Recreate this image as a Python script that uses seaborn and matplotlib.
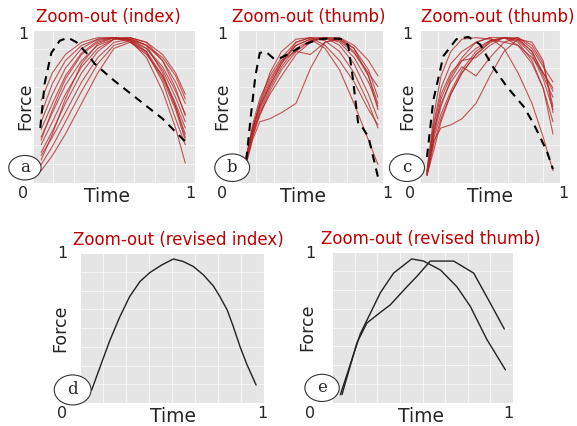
import numpy as np
import pandas as pd
import matplotlib
matplotlib.use("Agg")
import matplotlib.pyplot as plt
from matplotlib.patches import Ellipse
import seaborn as sns

# ---- data (normalised time / force) ----
T_A = [0.05, 0.12, 0.2, 0.3, 0.4, 0.5, 0.6, 0.7, 0.8, 0.88, 0.94]
A_TRIALS = [
    [0.54, 0.72, 0.84, 0.92, 0.95, 0.95, 0.94, 0.90, 0.80, 0.66, 0.52],
    [0.45, 0.65, 0.80, 0.90, 0.94, 0.95, 0.93, 0.88, 0.76, 0.60, 0.45],
    [0.40, 0.58, 0.75, 0.88, 0.94, 0.95, 0.94, 0.90, 0.82, 0.70, 0.55],
    [0.35, 0.52, 0.70, 0.85, 0.93, 0.95, 0.92, 0.84, 0.70, 0.52, 0.36],
    [0.30, 0.46, 0.64, 0.80, 0.90, 0.94, 0.94, 0.88, 0.74, 0.56, 0.40],
    [0.25, 0.40, 0.58, 0.76, 0.88, 0.94, 0.95, 0.92, 0.80, 0.62, 0.44],
    [0.20, 0.34, 0.52, 0.72, 0.86, 0.94, 0.95, 0.90, 0.72, 0.50, 0.30],
    [0.18, 0.30, 0.46, 0.66, 0.82, 0.92, 0.94, 0.86, 0.66, 0.42, 0.25],
    [0.12, 0.24, 0.40, 0.60, 0.78, 0.90, 0.93, 0.82, 0.60, 0.36, 0.13],
    [0.08, 0.18, 0.32, 0.52, 0.72, 0.88, 0.92, 0.86, 0.70, 0.50, 0.32],
    [0.15, 0.32, 0.55, 0.78, 0.91, 0.95, 0.93, 0.85, 0.68, 0.48, 0.28],
    [0.28, 0.48, 0.68, 0.84, 0.92, 0.95, 0.95, 0.92, 0.84, 0.72, 0.58],
]
A_DASH_T = [0.045, 0.072, 0.113, 0.165, 0.216, 0.268, 0.33, 0.38, 0.5, 0.68, 0.8, 0.94]
A_DASH_F = [0.36, 0.65, 0.85, 0.93, 0.95, 0.92, 0.85, 0.78, 0.67, 0.52, 0.42, 0.27]

T_B = [0.05, 0.1, 0.15, 0.22, 0.3, 0.4, 0.5, 0.6, 0.7, 0.8, 0.9, 0.965]
B_TRIALS = [
    [0.12, 0.38, 0.55, 0.70, 0.82, 0.92, 0.95, 0.95, 0.93, 0.85, 0.72, 0.63],
    [0.14, 0.35, 0.52, 0.68, 0.80, 0.90, 0.94, 0.95, 0.92, 0.82, 0.66, 0.50],
    [0.10, 0.30, 0.46, 0.62, 0.76, 0.88, 0.93, 0.95, 0.94, 0.88, 0.74, 0.56],
    [0.15, 0.36, 0.50, 0.64, 0.78, 0.92, 0.95, 0.93, 0.86, 0.72, 0.52, 0.36],
    [0.12, 0.33, 0.45, 0.58, 0.70, 0.84, 0.92, 0.95, 0.90, 0.78, 0.58, 0.42],
    [0.10, 0.28, 0.40, 0.42, 0.46, 0.52, 0.75, 0.92, 0.94, 0.86, 0.70, 0.52],
    [0.13, 0.32, 0.48, 0.64, 0.78, 0.90, 0.94, 0.88, 0.74, 0.52, 0.28, 0.12],
    [0.11, 0.30, 0.44, 0.60, 0.74, 0.86, 0.93, 0.95, 0.95, 0.90, 0.80, 0.70],
    [0.14, 0.34, 0.50, 0.66, 0.80, 0.86, 0.84, 0.92, 0.95, 0.88, 0.70, 0.48],
    [0.12, 0.34, 0.52, 0.72, 0.86, 0.94, 0.95, 0.90, 0.80, 0.66, 0.48, 0.38],
]
B_DASH_T = [0.057, 0.09, 0.12, 0.15, 0.19, 0.25, 0.30, 0.36, 0.47, 0.56, 0.655,
            0.72, 0.76, 0.79, 0.83, 0.86, 0.9, 0.965]
B_DASH_F = [0.15, 0.45, 0.70, 0.85, 0.86, 0.81, 0.82, 0.85, 0.91, 0.94, 0.945,
            0.94, 0.90, 0.70, 0.38, 0.36, 0.30, 0.04]

T_C = [0.05, 0.1, 0.15, 0.22, 0.3, 0.4, 0.5, 0.6, 0.7, 0.8, 0.88, 0.95]
C_TRIALS = [
    [0.08, 0.45, 0.70, 0.86, 0.94, 0.95, 0.94, 0.92, 0.90, 0.82, 0.72, 0.62],
    [0.06, 0.38, 0.58, 0.72, 0.80, 0.88, 0.93, 0.95, 0.94, 0.86, 0.72, 0.60],
    [0.07, 0.35, 0.52, 0.66, 0.76, 0.70, 0.82, 0.92, 0.95, 0.90, 0.78, 0.50],
    [0.05, 0.30, 0.45, 0.60, 0.74, 0.86, 0.93, 0.95, 0.92, 0.80, 0.62, 0.40],
    [0.06, 0.28, 0.36, 0.38, 0.42, 0.52, 0.70, 0.86, 0.94, 0.92, 0.80, 0.46],
    [0.05, 0.26, 0.42, 0.58, 0.72, 0.84, 0.92, 0.95, 0.95, 0.88, 0.76, 0.66],
    [0.07, 0.34, 0.55, 0.70, 0.82, 0.92, 0.95, 0.88, 0.72, 0.52, 0.30, 0.08],
    [0.06, 0.32, 0.50, 0.68, 0.80, 0.82, 0.90, 0.95, 0.94, 0.86, 0.70, 0.56],
    [0.08, 0.40, 0.62, 0.78, 0.86, 0.92, 0.95, 0.95, 0.90, 0.78, 0.62, 0.32],
    [0.05, 0.22, 0.40, 0.58, 0.72, 0.84, 0.92, 0.95, 0.93, 0.84, 0.68, 0.48],
]
C_DASH_T = [0.05, 0.095, 0.167, 0.26, 0.345, 0.43, 0.52, 0.62, 0.74, 0.81, 0.905, 0.95]
C_DASH_F = [0.17, 0.54, 0.83, 0.94, 0.955, 0.905, 0.76, 0.63, 0.50, 0.39, 0.21, 0.09]

D_T = [0.063, 0.109, 0.163, 0.217, 0.27, 0.326, 0.38, 0.444, 0.507, 0.56,
       0.616, 0.67, 0.725, 0.76, 0.80, 0.833, 0.87, 0.906, 0.957]
D_F = [0.085, 0.24, 0.42, 0.576, 0.71, 0.81, 0.87, 0.92, 0.96, 0.944,
       0.91, 0.855, 0.78, 0.71, 0.62, 0.51, 0.375, 0.26, 0.12]

E1_T = [0.046, 0.157, 0.267, 0.34, 0.44, 0.506, 0.6, 0.69, 0.764, 0.856, 0.958]
E1_F = [0.055, 0.46, 0.73, 0.86, 0.954, 0.94, 0.88, 0.77, 0.64, 0.42, 0.22]
E2_T = [0.055, 0.138, 0.193, 0.267, 0.322, 0.414, 0.47, 0.543, 0.617, 0.672,
        0.783, 0.875, 0.952]
E2_F = [0.055, 0.40, 0.53, 0.60, 0.65, 0.77, 0.84, 0.94, 0.94, 0.94, 0.86, 0.66, 0.49]

TITLES = ["Zoom-out (index)", "Zoom-out (thumb)", "Zoom-out (thumb)",
          "Zoom-out (revised index)", "Zoom-out (revised thumb)"]
LETTERS = ["a", "b", "c", "d", "e"]


def long_df(t, trials):
    rows = []
    for i, f in enumerate(trials):
        for x, y in zip(t, f):
            rows.append((i, x, y))
    return pd.DataFrame(rows, columns=["trial", "time", "force"])


sns.set_style("darkgrid", {"axes.facecolor": "#e5e5e5", "grid.color": "white"})
plt.rcParams["font.family"] = ["DejaVu Sans"]

fig = plt.figure(figsize=(5.77, 4.26), dpi=100)

W, H = 577, 426
# left, top, right, bottom in pixels
boxes = [(33, 30, 195, 183), (238, 30, 383, 183), (420, 30, 560, 183),
         (80, 253, 264, 403), (332, 252, 513, 403)]
# pixel offsets: y"1" dx, dy, "0" dx, x"1" dx, Force dx, Time dx, title dx
offs = [(-10, -5, -10, -5, -8, -7, -6),
        (-16, -5, -16, 4, -16, -7, -2),
        (-13, -5, -10, 3, -13, 0, 8),
        (-18, 0, -18, -2, -20, 1, 6),
        (-22, -1, -22, -5, -25, -2, 8)]
ellipses = [(-0.05, 0.10, 0.20, 0.16), (-0.04, 0.10, 0.24, 0.18),
            (-0.093, 0.10, 0.25, 0.18), (-0.04, 0.087, 0.20, 0.20),
            (-0.055, 0.10, 0.19, 0.18)]

red = "#b22222"
axes = []
for i, (l, t, r, b) in enumerate(boxes):
    ax = fig.add_axes([l / W, (H - b) / H, (r - l) / W, (b - t) / H])
    axes.append(ax)

panels = [(T_A, A_TRIALS, A_DASH_T, A_DASH_F),
          (T_B, B_TRIALS, B_DASH_T, B_DASH_F),
          (T_C, C_TRIALS, C_DASH_T, C_DASH_F)]
for ax, (t, trials, dt, df_) in zip(axes[:3], panels):
    sns.lineplot(data=long_df(t, trials), x="time", y="force", units="trial",
                 estimator=None, color=red, alpha=0.75, lw=0.8, ax=ax)
    sns.lineplot(x=dt, y=df_, color="black", lw=1.5, ax=ax,
                 linestyle=(0, (4, 3)))

sns.lineplot(x=D_T, y=D_F, color="#222222", lw=1.0, ax=axes[3])
sns.lineplot(x=E1_T, y=E1_F, color="#222222", lw=1.0, ax=axes[4])
sns.lineplot(x=E2_T, y=E2_F, color="#222222", lw=1.0, ax=axes[4])

for i, ax in enumerate(axes):
    ax.set_xlim(0, 1)
    ax.set_ylim(0, 1)
    ax.set_xticks(np.linspace(0, 1, 9))
    ax.set_yticks(np.linspace(0, 1, 9))
    ax.set_xticklabels([])
    ax.set_yticklabels([])
    ax.tick_params(length=0)
    ax.grid(True, color="white", lw=0.7, alpha=0.6)
    ax.set_xlabel("")
    ax.set_ylabel("")
    o = offs[i]
    kw = dict(xycoords="axes fraction", textcoords="offset pixels",
              ha="center", va="center", annotation_clip=False)
    ax.annotate("1", xy=(0, 1), xytext=(o[0], o[1]), fontsize=11.5, **kw)
    ax.annotate("0", xy=(0, 0), xytext=(o[2], -10), fontsize=11.5, **kw)
    ax.annotate("1", xy=(1, 0), xytext=(o[3], -10), fontsize=11.5, **kw)
    ax.annotate("Force", xy=(0, 0.5), xytext=(o[4], 0), fontsize=12.5,
                rotation=90, **kw)
    ax.annotate("Time", xy=(0.5, 0), xytext=(o[5], -14), fontsize=13.5, **kw)
    ax.annotate(TITLES[i], xy=(0.5, 1), xytext=(o[6], 13), fontsize=12,
                color="#c00000", **kw)
    cx, cy, ew, eh = ellipses[i]
    ax.add_patch(Ellipse((cx, cy), ew, eh, transform=ax.transAxes,
                         clip_on=False, fc="white", ec="#333333", lw=0.8,
                         zorder=5))
    ax.text(cx, cy, LETTERS[i], transform=ax.transAxes, ha="center",
            va="center", fontsize=12, family="DejaVu Serif", zorder=6)

fig.savefig("out.png", dpi=100)
